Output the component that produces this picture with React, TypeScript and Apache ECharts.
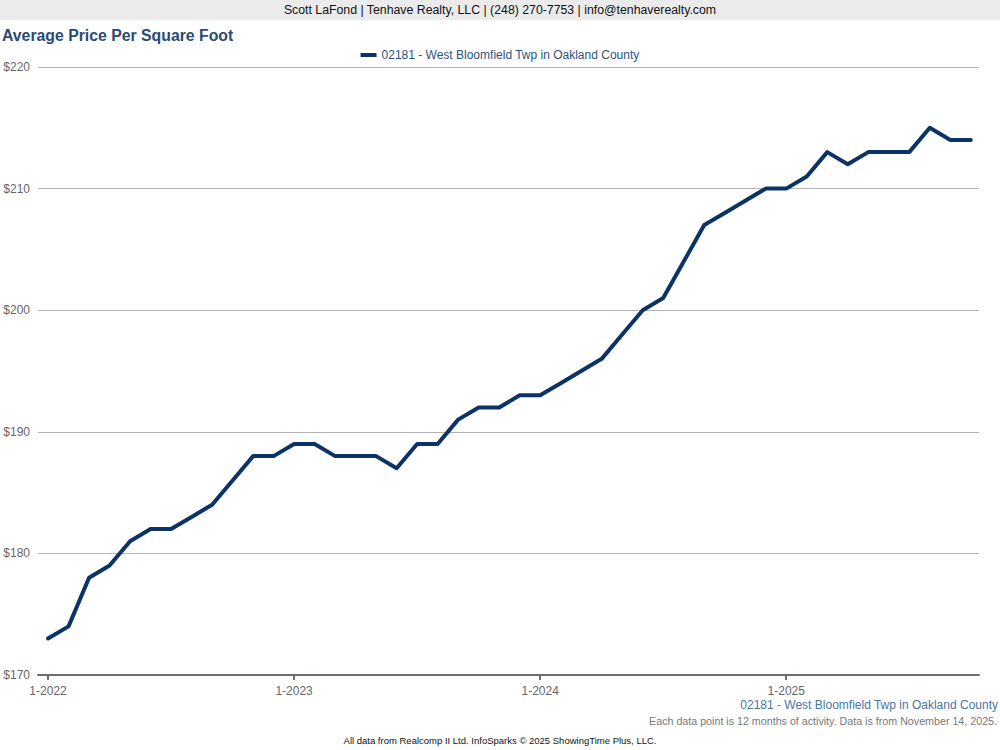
import React, { useEffect, useRef } from "react";
import * as echarts from "echarts";

const months: string[] = [];
for (let y = 2022; y <= 2025; y++) {
  for (let m = 1; m <= 12; m++) {
    if (y === 2025 && m > 10) break;
    months.push(`${m}-${y}`);
  }
}

const pricePerSqFt = [
  173, 174, 178, 179, 181, 182, 182, 183, 184, 186, 188, 188,
  189, 189, 188, 188, 188, 187, 189, 189, 191, 192, 192, 193,
  193, 194, 195, 196, 198, 200, 201, 204, 207, 208, 209, 210,
  210, 211, 213, 212, 213, 213, 213, 215, 214, 214,
];

const xTickIndices = [0, 12, 24, 36];

const seriesName = "02181 - West Bloomfield Twp in Oakland County";
const headerText = "Scott LaFond | Tenhave Realty, LLC | (248) 270-7753 | info@tenhaverealty.com";
const titleText = "Average Price Per Square Foot";
const footnote1 = "Each data point is 12 months of activity. Data is from November 14, 2025.";
const footnote2 = "All data from Realcomp II Ltd. InfoSparks © 2025 ShowingTime Plus, LLC.";

export default function App() {
  const ref = useRef<HTMLDivElement>(null);
  useEffect(() => {
    if (!ref.current) return;
    const chart = echarts.init(ref.current, null, { renderer: "svg" });
    const font = "Liberation Sans, Arial, sans-serif";
    chart.setOption({
      animation: false,
      backgroundColor: "#ffffff",
      textStyle: { fontFamily: font },
      graphic: [
        { type: "rect", shape: { x: 0, y: 0, width: 1000, height: 20 }, style: { fill: "#ebebeb" }, silent: true },
        {
          type: "text", x: 500, y: 10,
          style: { text: headerText, fill: "#111", font: `12.3px ${font}`, align: "center", verticalAlign: "middle" },
        },
        {
          type: "text", x: 2, y: 35,
          style: { text: titleText, fill: "#2c4a72", font: `bold 15.8px ${font}`, align: "left", verticalAlign: "middle" },
        },
        {
          type: "text", x: 998, y: 705,
          style: { text: seriesName, fill: "#4a74a3", font: `12px ${font}`, align: "right", verticalAlign: "middle" },
        },
        {
          type: "text", x: 997, y: 721,
          style: { text: footnote1, fill: "#777", font: `10.7px ${font}`, align: "right", verticalAlign: "middle" },
        },
        {
          type: "text", x: 500, y: 740,
          style: { text: footnote2, fill: "#111", font: `9.5px ${font}`, align: "center", verticalAlign: "middle" },
        },
      ],
      legend: {
        top: 44,
        left: "center",
        itemWidth: 16,
        itemHeight: 4,
        itemGap: 6,
        icon: "rect",
        textStyle: { color: "#2c5282", fontSize: 12, fontFamily: font },
        data: [seriesName],
      },
      grid: { left: 38, right: 21, top: 67, bottom: 75 },
      xAxis: {
        type: "value",
        min: -0.49,
        max: 45.4,
        axisLine: { show: true, onZero: false, lineStyle: { color: "#6e6e6e", width: 2 } },
        axisTick: { show: true, customValues: xTickIndices, length: 5, lineStyle: { color: "#6e6e6e", width: 2 } },
        axisLabel: {
          customValues: xTickIndices,
          formatter: (v: number) => months[Math.round(v)] ?? "",
          color: "#666",
          fontSize: 12,
          margin: 10,
        },
        splitLine: { show: false },
      },
      yAxis: {
        type: "value",
        min: 170,
        max: 220,
        interval: 10,
        axisLine: { show: false },
        axisTick: { show: false },
        axisLabel: { formatter: (v: number) => `$${v}`, color: "#666", fontSize: 12, margin: 8 },
        splitLine: { show: true, lineStyle: { color: "#b3b3b3", width: 1 } },
      },
      series: [
        {
          name: seriesName,
          type: "line",
          data: pricePerSqFt.map((v, i) => [i, v]),
          showSymbol: false,
          symbol: "none",
          lineStyle: { color: "#0b3366", width: 4, cap: "round", join: "round" },
          itemStyle: { color: "#0b3366" },
        },
      ],
    });
    return () => chart.dispose();
  }, []);
  return <div ref={ref} style={{ position: "absolute", left: 0, top: 0, width: 1000, height: 750 }} />;
}
